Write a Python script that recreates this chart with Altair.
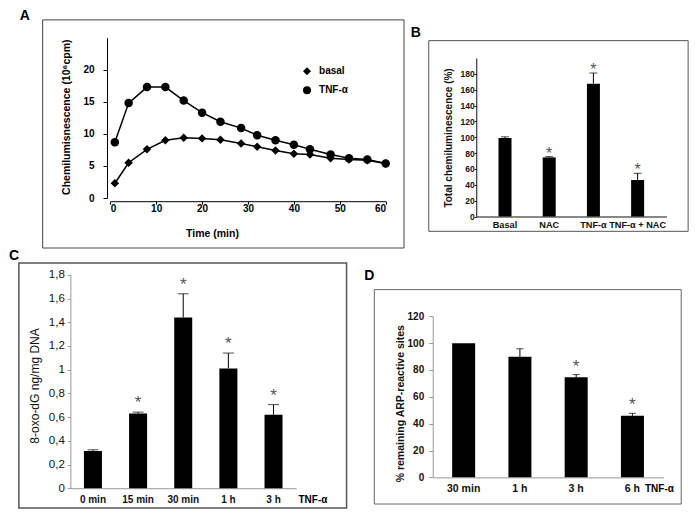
import altair as alt
import pandas as pd

FONT = "Liberation Sans, Arial, Helvetica, sans-serif"

# ---------------- data ----------------
# Panel A: chemiluminescence kinetics
a_time = [1, 4, 8, 12, 16, 20, 24, 28.5, 32, 36, 40, 43.5, 48, 52, 56, 60]
a_basal = [2.3, 5.5, 7.6, 9.0, 9.4, 9.3, 9.1, 8.5, 8.0, 7.4, 6.9, 6.8, 6.2, 6.0, 5.9, 5.4]
a_tnf = [8.7, 14.8, 17.3, 17.3, 15.2, 13.3, 11.9, 10.9, 9.8, 9.0, 8.3, 7.6, 6.8, 6.2, 6.0, 5.4]
a_series = ["basal", "TNF-α"]
a_xticks = [0, 10, 20, 30, 40, 50, 60]
a_yticks = [0, 5, 10, 15, 20]

# Panel B: total chemiluminescence
b_cats = ["Basal", "NAC", "TNF-α", "TNF-α + NAC"]
b_vals = [99, 74.5, 167.5, 46]
b_errs = [1.5, 1.0, 13.5, 8.5]
b_star = [False, True, True, True]
b_yticks = [0, 20, 40, 60, 80, 100, 120, 140, 160, 180]

# Panel C: 8-oxo-dG
c_cats = ["0 min", "15 min", "30 min", "1 h", "3 h"]
c_vals = [0.314, 0.63, 1.44, 1.01, 0.62]
c_errs = [0.01, 0.012, 0.2, 0.13, 0.085]
c_star = [False, True, True, True, True]
c_yticks = [0, 0.2, 0.4, 0.6, 0.8, 1.0, 1.2, 1.4, 1.6, 1.8]

# Panel D: remaining ARP-reactive sites
d_cats = ["30 min", "1 h", "3 h", "6 h"]
d_vals = [100, 89.8, 74.6, 45.9]
d_errs = [0, 6, 2, 1.8]
d_star = [False, False, True, True]
d_yticks = [0, 20, 40, 60, 80, 100, 120]

# ---------------- layout helpers (reference px -> chart px) ----------------
SX, SY = 0.99, 0.988


def LX(rx):
    return (rx - 5) * SX


def LY(ry):
    return (ry - 5) * SY


def box_layer(x1, y1, x2, y2, color, width):
    return alt.Chart(pd.DataFrame({"k": [0]})).mark_rect(
        fillOpacity=0, stroke=color, strokeWidth=width
    ).encode(x=alt.value(x1), x2=alt.value(x2), y=alt.value(y1), y2=alt.value(y2))


def text_layer(txt, x, y, size, weight="bold", color="black"):
    return alt.Chart(pd.DataFrame({"t": [txt]})).mark_text(
        font=FONT, fontSize=size, fontWeight=weight, color=color,
        align="center", baseline="middle"
    ).encode(text="t:N", x=alt.value(x), y=alt.value(y))


def bar_panel(cats, vals, errs, stars, *, W, H, ox, oy, letter, letter_pos, box,
              box_color, box_width, x_end, pad_outer, y_domain, y_top, yticks,
              y_axis_rx, zero_ry, bar_w, cap_w, y_title, y_title_pos, y_title_size,
              y_title_weight, x_label_size, x_label_pad, y_label_size, y_label_weight,
              y_label_pad, y_tick_size, axis_color, star_size, star_dy,
              label_expr=None, extra=None):
    df = pd.DataFrame({"cat": cats, "val": vals, "err": errs, "star": stars})
    df["top"] = df["val"] + df["err"]

    ax_x = LX(y_axis_rx) - ox
    ax_y = LY(zero_ry) - oy
    xs = alt.X(
        "cat:N", sort=cats,
        scale=alt.Scale(range=[ax_x, LX(x_end) - ox], paddingInner=0, paddingOuter=pad_outer),
        axis=alt.Axis(title=None, labelAngle=0, labelFont=FONT, labelFontSize=x_label_size,
                      labelFontWeight="bold", labelColor="#111", labelPadding=x_label_pad,
                      ticks=False, domainColor=axis_color, offset=ax_y - H, grid=False),
    )
    ax_kw = dict(
        values=yticks, offset=-ax_x, grid=False, title=y_title,
        titleX=LX(y_title_pos[0]) - ox - ax_x, titleY=LY(y_title_pos[1]) - oy,
        titleAngle=270, titleAlign="center", titleBaseline="middle", titleFont=FONT,
        titleFontSize=y_title_size, titleFontWeight=y_title_weight, titleColor="#111",
        labelFont=FONT, labelFontSize=y_label_size, labelFontWeight=y_label_weight,
        labelColor="#111", labelPadding=y_label_pad, tickSize=y_tick_size,
        domainColor=axis_color, tickColor=axis_color,
    )
    if label_expr:
        ax_kw["labelExpr"] = label_expr
    yaxis = alt.Axis(**ax_kw)
    yscale = alt.Scale(domain=y_domain, range=[ax_y, LY(y_top) - oy], nice=False)

    def ys(field):
        return alt.Y(f"{field}:Q", scale=yscale, axis=yaxis)

    bars = alt.Chart(df).mark_bar(color="black", size=bar_w).encode(x=xs, y=ys("val"))
    err = alt.Chart(df).transform_filter("datum.err > 0").mark_rule(
        color="black", strokeWidth=1).encode(x=xs, y=ys("val"), y2="top:Q")
    cap = alt.Chart(df).transform_filter("datum.err > 0").mark_tick(
        color="black", size=cap_w, thickness=1).encode(x=xs, y=ys("top"))
    star = alt.Chart(df).transform_filter("datum.star").mark_text(
        text="*", font=FONT, fontSize=star_size, color="#555", baseline="alphabetic",
        dy=star_dy).encode(x=xs, y=ys("top"))

    layers = [
        box_layer(LX(box[0]) - ox, LY(box[1]) - oy, LX(box[2]) - ox, LY(box[3]) - oy,
                  box_color, box_width),
        text_layer(letter, letter_pos[0], letter_pos[1], 14),
        bars, err, cap, star,
    ]
    if extra:
        layers.append(text_layer(extra[0], LX(extra[1]) - ox, LY(extra[2]) - oy, 10))
    return alt.layer(*layers).properties(width=W, height=H)


# ---------------- Panel A ----------------
WA, HA = 400, 238
dfa = pd.DataFrame({
    "t": a_time + a_time,
    "v": a_basal + a_tnf,
    "series": [a_series[0]] * len(a_time) + [a_series[1]] * len(a_time),
})
a_ax_x = LX(105)
a_ax_y = LY(197.5)
xa = alt.X("t:Q", scale=alt.Scale(domain=[0, 60], range=[LX(108.3), LX(386.5)], nice=False),
           axis=alt.Axis(values=a_xticks, offset=a_ax_y - HA, title="Time (min)",
                         titleX=LX(211), titleY=LY(230) - a_ax_y, titleAlign="center",
                         titleBaseline="middle", titleFont=FONT, titleFontSize=10.5,
                         titleFontWeight="bold", titleColor="black", labelFont=FONT,
                         labelFontSize=10, labelFontWeight="bold", labelColor="black",
                         labelPadding=-1, tickSize=3, domainColor="black",
                         tickColor="black", grid=False))
ya = alt.Y("v:Q", scale=alt.Scale(domain=[0, 25], range=[LY(194.3), LY(32)], nice=False),
           axis=alt.Axis(values=a_yticks, offset=-a_ax_x, title="Chemilumisnescence (10⁶cpm)",
                         titleX=LX(64) - a_ax_x, titleY=LY(112), titleAngle=270,
                         titleAlign="center", titleBaseline="middle", titleFont=FONT,
                         titleFontSize=10.5, titleFontWeight="bold", titleColor="black",
                         labelFont=FONT, labelFontSize=10, labelFontWeight="bold",
                         labelColor="black", labelPadding=9, tickSize=4,
                         domainColor="black", tickColor="black", grid=False))
a_lines = alt.Chart(dfa).mark_line(color="black", strokeWidth=1.5).encode(
    x=xa, y=ya, detail="series:N")
a_points = alt.Chart(dfa).mark_point(filled=True, color="black", opacity=1, size=72).encode(
    x=xa, y=ya,
    shape=alt.Shape("series:N",
                    scale=alt.Scale(domain=a_series, range=["diamond", "circle"]),
                    legend=alt.Legend(title=None, orient="none", legendX=LX(302),
                                      legendY=LY(61), labelFont=FONT, labelFontSize=10,
                                      labelFontWeight="bold", labelColor="black",
                                      symbolSize=64, symbolFillColor="black",
                                      symbolStrokeColor="black", labelOffset=7,
                                      rowPadding=5, padding=0)),
)
panelA = alt.layer(
    box_layer(LX(40), LY(14), LX(405), 237, "#444", 1),
    text_layer("A", LX(22), LY(10), 14),
    a_lines, a_points,
).properties(width=WA, height=HA)

# ---------------- Panel B ----------------
WB, HB = 281, 238
panelB = bar_panel(
    b_cats, b_vals, b_errs, b_star, W=WB, H=HB, ox=400, oy=0,
    letter="B", letter_pos=(LX(417) - 400, LY(27)), box=(430, 35, 692, 228),
    box_color="#555", box_width=1, x_end=670, pad_outer=0.15, y_domain=[0, 200],
    y_top=52.5, yticks=b_yticks, y_axis_rx=478, zero_ry=213, bar_w=13, cap_w=8,
    y_title="Total chemiluminescence (%)", y_title_pos=(450, 133), y_title_size=10,
    y_title_weight="bold", x_label_size=9.2, x_label_pad=4, y_label_size=8.5,
    y_label_weight="bold", y_label_pad=0, y_tick_size=2, axis_color="#111",
    star_size=16, star_dy=2,
)

# ---------------- Panel C ----------------
WC, HC = 349, 259
panelC = bar_panel(
    c_cats, c_vals, c_errs, c_star, W=WC, H=HC, ox=0, oy=238,
    letter="C", letter_pos=(6, LY(252) - 238), box=(16, 259, 347, 507),
    box_color="#555", box_width=1.5, x_end=296, pad_outer=0, y_domain=[0, 1.8],
    y_top=271, yticks=c_yticks, y_axis_rx=68, zero_ry=487, bar_w=18, cap_w=11,
    y_title="8-oxo-dG ng/mg DNA", y_title_pos=(32, 383), y_title_size=12,
    y_title_weight="normal", x_label_size=10, x_label_pad=6, y_label_size=11.5,
    y_label_weight="normal", y_label_pad=3, y_tick_size=3, axis_color="#999",
    star_size=17, star_dy=-4,
    label_expr="replace(format(datum.value, '~g'), '.', ',')",
    extra=("TNF-α", 313, 499),
)

# ---------------- Panel D ----------------
WD, HD = 332, 259
panelD = bar_panel(
    d_cats, d_vals, d_errs, d_star, W=WD, H=HD, ox=349, oy=238,
    letter="D", letter_pos=(LX(370) - 349, LY(272) - 238), box=(375, 286, 685, 503),
    box_color="#666", box_width=1, x_end=667, pad_outer=0.05, y_domain=[0, 120],
    y_top=313, yticks=d_yticks, y_axis_rx=434, zero_ry=476, bar_w=23, cap_w=7,
    y_title="% remaining ARP-reactive sites", y_title_pos=(401, 401), y_title_size=10.5,
    y_title_weight="bold", x_label_size=10.5, x_label_pad=6, y_label_size=10,
    y_label_weight="bold", y_label_pad=5, y_tick_size=4, axis_color="#999",
    star_size=17, star_dy=-3,
    extra=("TNF-α", 663, 488),
)

chart = alt.vconcat(
    alt.hconcat(panelA, panelB, spacing=0),
    alt.hconcat(panelC, panelD, spacing=0),
    spacing=0,
).properties(padding=0).configure(font=FONT).configure_view(strokeWidth=0)

chart.save("out.html", embed_options={"renderer": "svg", "actions": False})
